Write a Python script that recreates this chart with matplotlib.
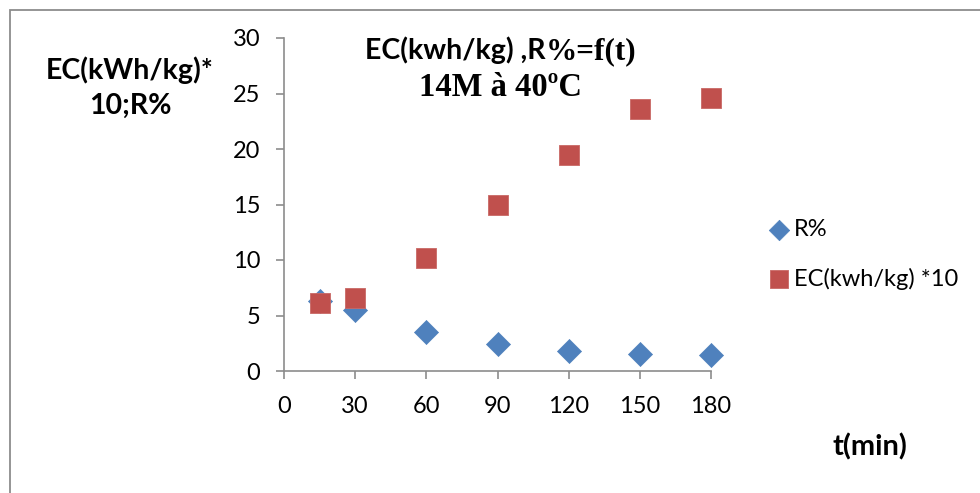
import matplotlib
matplotlib.use("Agg")
import matplotlib.pyplot as plt
from matplotlib.patches import Rectangle
from matplotlib.offsetbox import TextArea, HPacker, AnnotationBbox

# Time (min)
t_r = [15, 30, 60, 90, 120, 150, 180]
r_pct = [6.3, 5.5, 3.5, 2.4, 1.8, 1.5, 1.45]

t_ec = [15, 30, 60, 90, 120, 150, 180]
ec_x10 = [6.15, 6.6, 10.15, 15.0, 19.5, 23.6, 24.6]

x_ticks = [0, 30, 60, 90, 120, 150, 180]
y_ticks = [0, 5, 10, 15, 20, 25, 30]

BLUE = "#4F81BD"
RED = "#C0504D"
SANS = ["Lato", "DejaVu Sans"]
SERIF = ["Liberation Serif", "DejaVu Serif"]

fig = plt.figure(figsize=(9.8, 4.93), dpi=100)
fig.patches.append(Rectangle((9.5 / 980, -0.01), 1.05, 1 - 9.5 / 493 + 0.01,
                             transform=fig.transFigure, fill=False,
                             edgecolor="#8C8C8C", linewidth=1.3))

ax = fig.add_axes([284 / 980, 1 - 371 / 493, (711 - 284) / 980, (371 - 38) / 493])

ax.scatter(t_r, r_pct, marker="D", s=150, color=BLUE, edgecolors=BLUE,
           linewidths=0.5, label="R%", zorder=3, clip_on=False)
ax.scatter(t_ec, ec_x10, marker="s", s=220, color=RED, edgecolors="#C96865",
           linewidths=0.6, label="EC(kwh/kg) *10", zorder=4, clip_on=False)

ax.set_xlim(0, 180)
ax.set_ylim(0, 30)
ax.set_xticks(x_ticks)
ax.set_yticks(y_ticks)
for s in ("top", "right"):
    ax.spines[s].set_visible(False)
for s in ("left", "bottom"):
    ax.spines[s].set_color("#8C8C8C")
    ax.spines[s].set_linewidth(1.2)
ax.tick_params(direction="out", length=6, width=1.2, color="#8C8C8C",
               labelsize=17)
ax.tick_params(axis="y", pad=11)
ax.tick_params(axis="x", pad=12)
for lab in ax.get_xticklabels() + ax.get_yticklabels():
    lab.set_fontfamily(SANS)

leg = ax.legend(loc="center left", bbox_to_anchor=(1.105, 0.35), frameon=False,
                prop={"family": SANS, "size": 17}, handletextpad=0.0,
                labelspacing=1.15, markerscale=0.85, borderaxespad=0,
                handlelength=1.2)

# Y label
fig.text(130 / 980, 1 - 88 / 493, "EC(kWh/kg)*\n10;R%", ha="center",
         va="center", fontsize=20.5, fontweight="bold", family=SANS,
         linespacing=1.42)

# X label
fig.text(870 / 980, 1 - 447 / 493, "t(min)", ha="center", va="center",
         fontsize=21, fontweight="bold", family=SANS)

# Title: mixed fonts on the first line
p1 = TextArea("EC(kwh/kg) ,R", textprops=dict(fontsize=20.5, fontweight="bold",
                                                family=SANS))
p2 = TextArea("%=f(t)", textprops=dict(fontsize=22.5, fontweight="bold",
                                        family=SERIF))
line1 = HPacker(children=[p1, p2], pad=0, sep=0, align="baseline")
ab = AnnotationBbox(line1, (501 / 980, 1 - 51 / 493), xycoords="figure fraction",
                    frameon=False, box_alignment=(0.5, 0.5))
fig.add_artist(ab)
fig.text(500 / 980, 1 - 88 / 493, "14M à 40ºC", ha="center", va="center",
         fontsize=23.5, fontweight="bold", family=SERIF)

fig.savefig("out.png", dpi=100)
